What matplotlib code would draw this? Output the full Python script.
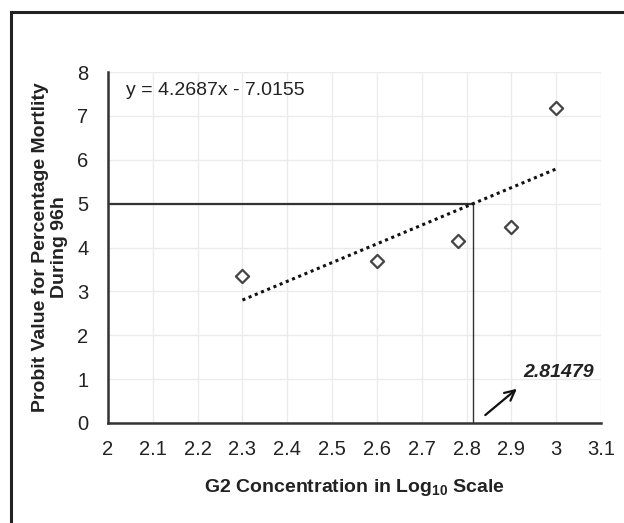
import matplotlib
matplotlib.use("Agg")
import matplotlib.pyplot as plt
import numpy as np
from matplotlib.lines import Line2D

plt.rcParams['font.family'] = ['Liberation Sans', 'DejaVu Sans']
plt.rcParams['mathtext.fontset'] = 'custom'
plt.rcParams['mathtext.bf'] = 'Liberation Sans:bold'
plt.rcParams['mathtext.rm'] = 'Liberation Sans'

# Data
log_conc = [2.3, 2.6, 2.78, 2.9, 3.0]
probit = [3.35, 3.70, 4.15, 4.47, 7.18]
slope = 4.2687
intercept = -7.0155
lc50_x = 2.81479
probit_50 = 5
x_ticks = [2, 2.1, 2.2, 2.3, 2.4, 2.5, 2.6, 2.7, 2.8, 2.9, 3, 3.1]
x_tick_labels = ['2', '2.1', '2.2', '2.3', '2.4', '2.5', '2.6', '2.7', '2.8', '2.9', '3', '3.1']
y_ticks = [0, 1, 2, 3, 4, 5, 6, 7, 8]

fig = plt.figure(figsize=(6.24, 5.23), dpi=100)
ax = fig.add_axes([108/624, 1-423/523, (601-108)/624, (423-72)/523])

ax.set_xlim(2, 3.1)
ax.set_ylim(0, 8)
ax.set_xticks(x_ticks)
ax.set_xticklabels(x_tick_labels)
ax.set_yticks(y_ticks)
ax.grid(True, color='#ebebeb', linewidth=1.0)
ax.set_axisbelow(True)
for s in ['top', 'right']:
    ax.spines[s].set_visible(False)
ax.spines['left'].set_color('#333333')
ax.spines['bottom'].set_color('#333333')
ax.spines['left'].set_linewidth(1.8)
ax.spines['bottom'].set_linewidth(1.8)
ax.tick_params(length=0, labelsize=14.5, colors='#222222')
ax.tick_params(axis='x', pad=12)
ax.tick_params(axis='y', pad=14)

# Trendline
xt = np.array([min(log_conc), max(log_conc)])
ax.plot(xt, slope*xt + intercept, linestyle=(0, (1, 1.2)), color='#111111', linewidth=2.2, zorder=3)

# LC50 reference lines
ax.plot([2, lc50_x], [probit_50, probit_50], color='#333333', linewidth=1.6, zorder=2)
ax.plot([lc50_x, lc50_x], [0, probit_50], color='#333333', linewidth=1.0, zorder=2)

# Points
ax.scatter(log_conc, probit, marker='D', s=45, facecolors='white', edgecolors='#444444', linewidths=1.6, zorder=4)

# Equation
ax.text(2.04, 7.57, 'y = 4.2687x - 7.0155', fontsize=14, color='#222222', va='center', ha='left')

# Arrow and label
ax.annotate('', xy=(2.917, 0.82), xytext=(2.837, 0.14),
            arrowprops=dict(arrowstyle='->', color='#111111', lw=1.6, mutation_scale=18))
ax.text(2.926, 1.16, f'{lc50_x:.5f}', fontsize=14, fontweight='bold', fontstyle='italic', color='#222222',
        va='center', ha='left')

# Labels
fig.text(50/624, 1-247/523, 'Probit Value for Percentage Mortlity\nDuring 96h', fontsize=14, fontweight='bold',
         color='#222222', rotation=90, ha='center', va='center', multialignment='center', linespacing=1.1)
fig.text((108+601)/2/624, 1-488/523, 'G2 Concentration in Log$_{\\mathbf{10}}$ Scale', fontsize=14, fontweight='bold',
         color='#222222', ha='center', va='center')

# Outer frame
fig.add_artist(Line2D([11/624, 11/624], [0, 1-12/523], color='#222222', linewidth=2.2, transform=fig.transFigure))
fig.add_artist(Line2D([11/624, 1], [1-12/523, 1-12/523], color='#222222', linewidth=2.2, transform=fig.transFigure))

fig.savefig('out.png', dpi=100)
